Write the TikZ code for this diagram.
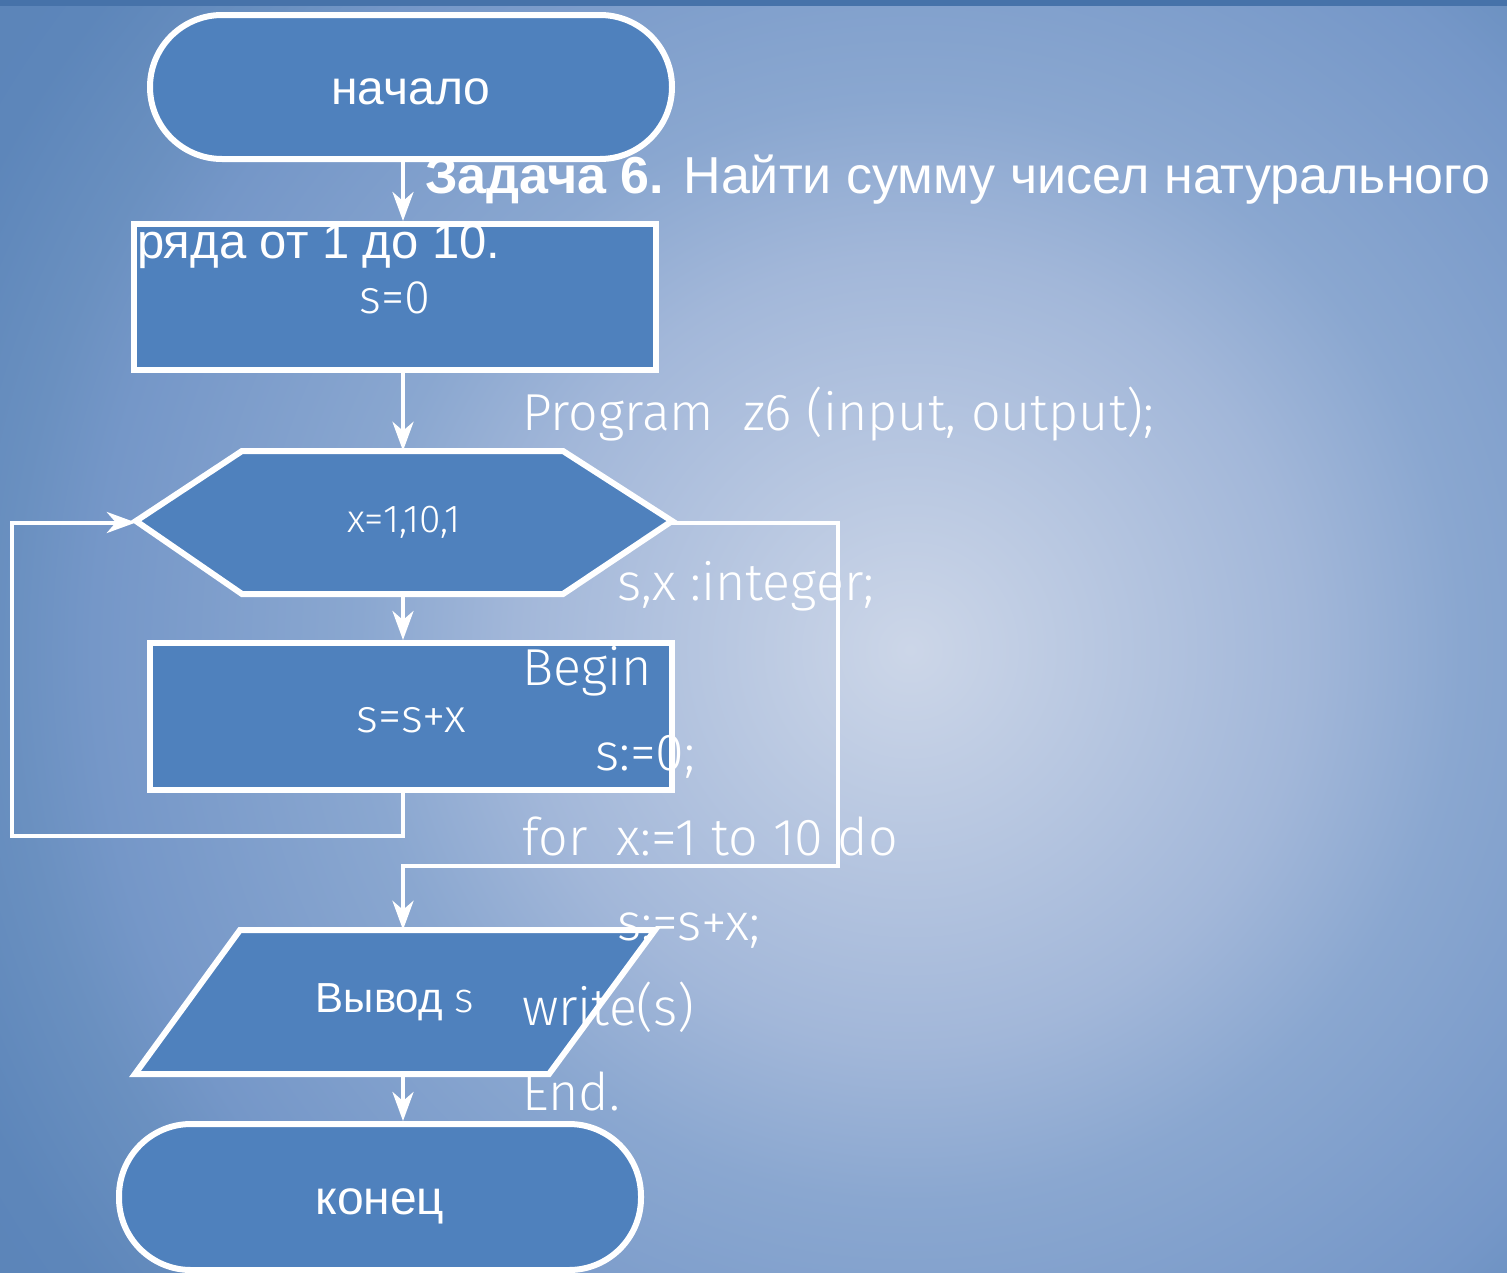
\documentclass[tikz,border=0pt]{standalone}
\usepackage{fontspec}
\setmainfont{Liberation Sans}
\newfontfamily\codice{Fira Sans Light}
\usetikzlibrary{arrows.meta}
\definecolor{blu}{HTML}{4F81BD}
\definecolor{striscia}{HTML}{4672A9}
\definecolor{fondo0}{HTML}{CCD6E8}
\definecolor{fondo1}{HTML}{A2B7D9}
\definecolor{fondo2}{HTML}{8AA7D0}
\definecolor{fondo3}{HTML}{7597C8}
\definecolor{fondo4}{HTML}{6A90C0}
\definecolor{fondo5}{HTML}{5D86BA}
\definecolor{fondo6}{HTML}{5A83B8}
\pgfdeclareradialshading{sfondo}{\pgfpoint{0bp}{0bp}}{color(0bp)=(fondo0);
  color(7.6bp)=(fondo1); color(10.6bp)=(fondo2); color(15.7bp)=(fondo3);
  color(17.3bp)=(fondo4); color(19.9bp)=(fondo5); color(23bp)=(fondo6);
  color(50bp)=(fondo6)}
\tikzstyle{terminale} = [rectangle, rounded corners=72pt, draw=white, line width=6pt,
    fill=blu, text=white, minimum width=522pt, minimum height=144pt,
    text height=34pt, text depth=0pt, font=\fontsize{48}{56}\selectfont]
\tikzstyle{blocco} = [rectangle, draw=white, line width=6pt, fill=blu, text=white,
    minimum width=522pt, minimum height=146pt, text height=32pt, text depth=0pt,
    font=\codice\fontsize{47}{54}\selectfont]
\tikzstyle{figura} = [draw=white, line width=6pt, fill=blu, line join=miter]
\tikzstyle{vuoto} = [rectangle, inner sep=0pt, text=white]
\tikzstyle{freccia} = [draw=white, line width=4pt, -{Stealth[length=29pt,width=21pt,inset=9pt]}]
\tikzstyle{titolo} = [anchor=base west, inner sep=0pt, text=white]
\tikzstyle{riga} = [anchor=base west, inner sep=0pt, text=white,
    font=\codice\fontsize{52}{60}\selectfont]

\begin{document}
\begin{tikzpicture}[x=1pt,y=-1pt]
  \useasboundingbox (0,0) rectangle (1507,1272);
  \clip (0,0) rectangle (1507,1272);
  \shade [shading=sfondo] (910,650) circle (1300);
  \fill [striscia] (0,0) rectangle (1507,6);

  \coordinate (asse) at (403,0);
  \coordinate (sinistra) at (12,836);
  \coordinate (destra) at (838,866);

  \node [terminale] (inizio) at (411,87) {начало};
  \node [blocco] (zero) at (395,297) {s=0};
  \draw [figura] (136,521) -- (242,451) -- (563,451) -- (672,521)
    -- (563,594) -- (242,594) -- cycle;
  \node [vuoto, minimum width=536pt, minimum height=143pt,
    font=\codice\fontsize{39}{44}\selectfont] (ciclo) at (404,522.5) {x=1,10,1};
  \node [blocco, minimum height=147pt] (somma) at (411,716.5) {s=s+x};
  \draw [figura] (240,930) -- (655,930) -- (549,1074) -- (135,1074) -- cycle;
  \node [vuoto, minimum width=420pt, minimum height=144pt,
    font=\fontsize{42}{48}\selectfont] (uscita) at (395,1002) {Вывод {\codice s}};
  \node [terminale, minimum height=146pt] (fine) at (380,1197) {конец};

  \draw [freccia] (inizio.south -| asse) -- (zero.north -| asse);
  \draw [freccia] (zero.south -| asse) -- (ciclo.north -| asse);
  \draw [freccia] (ciclo.south -| asse) -- (somma.north -| asse);
  \draw [freccia] (somma.south -| asse) |- (sinistra) |- (ciclo.west);
  \draw [freccia] (ciclo.east) -| (destra) -| (uscita.north -| asse);
  \draw [freccia] (uscita.south -| asse) -- (fine.north -| asse);

  \node [titolo, font=\fontsize{52}{60}\selectfont] (titolo1) at (425,193)
    {\textbf{Задача 6.} Найти сумму чисел натурального};
  \node [titolo, font=\fontsize{49}{56}\selectfont] (titolo2) at (137,258)
    {ряда от 1 до 10.};

  \node [riga] (riga1) at (522,430) {Program\ \ z6 (input, output);};
  \node [riga] (riga2) at (617,600) {s,x :integer;};
  \node [riga] (riga3) at (522,685) {Begin};
  \node [riga] (riga4) at (595,770) {s:=0;};
  \node [riga] (riga5) at (522,855) {for\ \ x:=1 to 10 do};
  \node [riga] (riga6) at (617,940) {s:=s+x;};
  \node [riga] (riga7) at (522,1025) {write(s)};
  \node [riga] (riga8) at (522,1110) {End.};
\end{tikzpicture}
\end{document}
